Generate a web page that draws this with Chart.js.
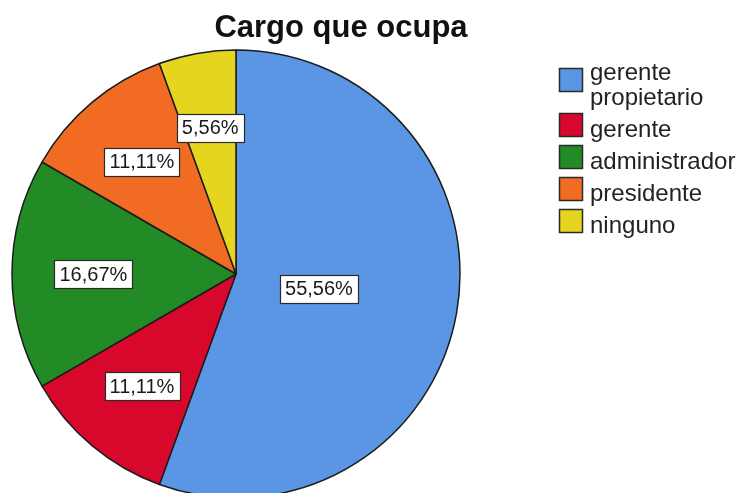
<!DOCTYPE html>
<html>
<head>
<meta charset="utf-8">
<script src="https://cdn.jsdelivr.net/npm/chart.js@4/dist/chart.umd.min.js"></script>
<style>
  html, body { margin: 0; padding: 0; background: #fff; overflow: hidden; }
  #wrap { width: 744px; height: 500px; }
</style>
</head>
<body>
<div id="wrap"><canvas id="pie" width="744" height="500"></canvas></div>
<script>
const categories = ['gerente propietario', 'gerente', 'administrador', 'presidente', 'ninguno'];
const percents = [55.56, 11.11, 16.67, 11.11, 5.56];
const sliceColors = ['#5a96e3', '#d8072c', '#228b26', '#f16b22', '#e6d51f'];
const chartTitle = 'Cargo que ocupa';

const FONT = '"Liberation Sans", Arial, sans-serif';

function fmtPct(v) {
  return v.toFixed(2).replace('.', ',') + '%';
}

function wrapText(ctx, text, maxW) {
  const words = text.split(' ');
  const lines = [];
  let cur = '';
  words.forEach(w => {
    const test = cur ? cur + ' ' + w : w;
    if (cur && ctx.measureText(test).width > maxW) {
      lines.push(cur);
      cur = w;
    } else {
      cur = test;
    }
  });
  if (cur) lines.push(cur);
  return lines;
}

const decorPlugin = {
  id: 'decor',
  afterDraw(chart) {
    const ctx = chart.ctx;
    const meta = chart.getDatasetMeta(0);
    ctx.save();

    // slice labels at sector centroid
    ctx.font = '20px ' + FONT;
    ctx.textAlign = 'center';
    ctx.textBaseline = 'middle';
    meta.data.forEach((arc, i) => {
      const p = arc.getProps(['x', 'y', 'startAngle', 'endAngle', 'outerRadius'], true);
      const half = (p.endAngle - p.startAngle) / 2;
      const mid = p.startAngle + half;
      const d = 2 * p.outerRadius * Math.sin(half) / (3 * half);
      const lx = p.x + Math.cos(mid) * d;
      const ly = p.y + Math.sin(mid) * d;
      const txt = fmtPct(percents[i]);
      const w = ctx.measureText(txt).width + 10;
      const h = 28;
      ctx.fillStyle = '#fff';
      ctx.fillRect(Math.round(lx - w / 2), Math.round(ly - h / 2), Math.round(w), h);
      ctx.strokeStyle = '#2a2a2a';
      ctx.lineWidth = 1.2;
      ctx.strokeRect(Math.round(lx - w / 2) + 0.5, Math.round(ly - h / 2) + 0.5, Math.round(w), h);
      ctx.fillStyle = '#1a1a1a';
      ctx.fillText(txt, lx, ly + 1);
    });

    // title
    ctx.font = 'bold 31px ' + FONT;
    ctx.textAlign = 'center';
    ctx.textBaseline = 'alphabetic';
    ctx.fillStyle = '#111';
    ctx.fillText(chartTitle, 341, 37);

    // legend
    ctx.font = '24px ' + FONT;
    ctx.textAlign = 'left';
    let top = 68;
    categories.forEach((cat, i) => {
      const lines = wrapText(ctx, cat, 152);
      ctx.fillStyle = sliceColors[i];
      ctx.fillRect(559, top, 24, 24);
      ctx.strokeStyle = '#2a2a2a';
      ctx.lineWidth = 1.5;
      ctx.strokeRect(559.5, top + 0.5, 23, 23);
      ctx.fillStyle = '#222';
      const firstBase = top + 24 - (lines.length - 1) * 12;
      lines.forEach((ln, k) => ctx.fillText(ln, 590, firstBase + k * 25));
      top += 32 + (lines.length - 1) * 13;
    });
    ctx.restore();
  }
};

new Chart(document.getElementById('pie'), {
  type: 'pie',
  data: {
    labels: categories,
    datasets: [{
      data: percents,
      backgroundColor: sliceColors,
      borderColor: '#1c1c1c',
      borderWidth: 1.5
    }]
  },
  options: {
    responsive: false,
    animation: false,
    radius: 224,
    layout: { padding: { left: 12, top: 50, right: 284, bottom: 2 } },
    plugins: {
      legend: { display: false },
      tooltip: { enabled: false },
      title: { display: false }
    }
  },
  plugins: [decorPlugin]
});
</script>
</body>
</html>
